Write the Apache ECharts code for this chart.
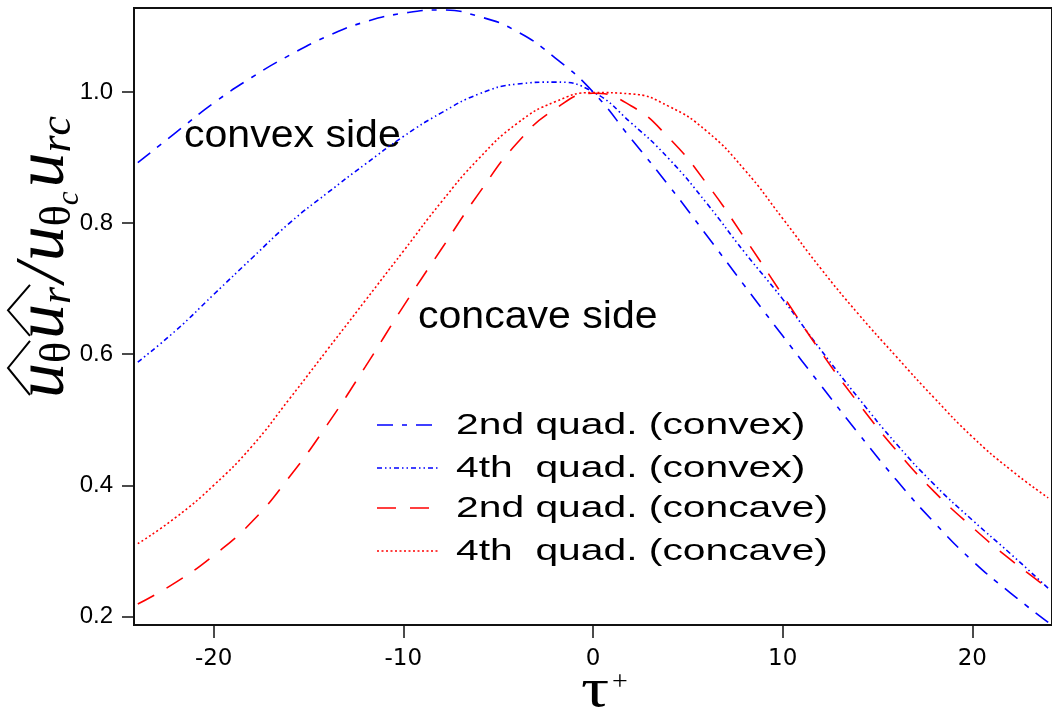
<!DOCTYPE html>
<html>
<head>
<meta charset="utf-8">
<script src="https://cdn.jsdelivr.net/npm/echarts@6/dist/echarts.min.js"></script>
<style>
  html, body { margin: 0; padding: 0; background: #fff; }
  #chart { width: 1052px; height: 713px; }
</style>
</head>
<body>
<div id="chart"></div>
<script>
// Normalised Reynolds-stress profiles versus tau+
const tau = [-24, -22, -20, -18, -16, -14, -12, -10, -8, -6, -4, -2, 0, 2, 4, 6, 8, 10, 12, 14, 16, 18, 20, 22, 24];
const quad2Convex  = [0.892, 0.938, 0.983, 1.022, 1.056, 1.085, 1.107, 1.120, 1.125, 1.115, 1.092, 1.052, 1.000, 0.929, 0.857, 0.781, 0.704, 0.628, 0.553, 0.479, 0.408, 0.343, 0.285, 0.236, 0.191];
const quad4Convex  = [0.588, 0.636, 0.691, 0.746, 0.800, 0.846, 0.890, 0.932, 0.968, 0.997, 1.012, 1.015, 1.000, 0.953, 0.898, 0.830, 0.755, 0.684, 0.607, 0.533, 0.463, 0.401, 0.347, 0.296, 0.243];
const quad2Concave = [0.219, 0.252, 0.293, 0.344, 0.413, 0.493, 0.581, 0.673, 0.760, 0.846, 0.922, 0.974, 0.998, 0.979, 0.930, 0.860, 0.777, 0.690, 0.604, 0.525, 0.453, 0.390, 0.336, 0.287, 0.243];
const quad4Concave = [0.311, 0.351, 0.400, 0.459, 0.532, 0.607, 0.682, 0.757, 0.832, 0.899, 0.952, 0.985, 0.999, 0.997, 0.978, 0.940, 0.881, 0.807, 0.731, 0.661, 0.596, 0.533, 0.474, 0.424, 0.381];
const seriesNames = ['2nd quad. (convex)', '4th  quad. (convex)', '2nd quad. (concave)', '4th  quad. (concave)'];
const xTicks = [-20, -10, 0, 10, 20];
const yTicks = [0.2, 0.4, 0.6, 0.8, 1.0];
const sideLabels = ['convex side', 'concave side'];

const seriesValues = [quad2Convex, quad4Convex, quad2Concave, quad4Concave];
const lineLooks = [
  { color: '#0000ff', dash: [16, 9, 5, 9] },
  { color: '#0000ff', dash: [5, 3, 1.5, 3, 1.5, 3] },
  { color: '#ff0000', dash: [19, 14] },
  { color: '#ff0000', dash: [2, 2.5] }
];
const LINE_W = 1.6;

const measureCtx = document.createElement('canvas').getContext('2d');
function textWidth(t, font) { measureCtx.font = font; return measureCtx.measureText(t).width; }

// Builds a rotated math label: tokens laid out along a baseline, with optional wide hats
function mathLabel(tokens, x0, y0, rotation) {
  const children = [];
  let cursor = 0;
  let hatStart = null;
  tokens.forEach(tok => {
    const family = tok.family || '"Liberation Serif", "Times New Roman", serif';
    const style = tok.italic ? 'italic' : 'normal';
    const font = `${style} ${tok.size}px ${family}`;
    const w = textWidth(tok.t, font);
    const dy = tok.dy || 0;
    if (tok.hatStart) hatStart = cursor;
    children.push({
      type: 'text',
      x: cursor, y: dy - 0.3375 * tok.size,
      style: {
        text: tok.t, fontSize: tok.size, fontFamily: family, fontStyle: style,
        fill: '#000', align: 'left', verticalAlign: 'middle'
      }
    });
    cursor += w + (tok.gap || 0);
    if (tok.hatEnd && hatStart !== null) {
      const a = hatStart + 3, b = cursor - 2, c = (a + b) / 2;
      children.push({
        type: 'polyline',
        shape: { points: [[a, -38], [c, -60], [b, -38]] },
        style: { stroke: '#000', lineWidth: 2, fill: null }
      });
      hatStart = null;
    }
  });
  return { type: 'group', x: x0, y: y0, rotation: rotation, children: children };
}

const yTitle = mathLabel([
  { t: 'u', size: 70, italic: true, hatStart: true },
  { t: 'θ', size: 44, dy: 5, hatEnd: true, gap: 3 },
  { t: 'u', size: 70, italic: true, hatStart: true },
  { t: 'r', size: 44, italic: true, dy: 5, hatEnd: true, gap: 4 },
  { t: '/', size: 70, italic: true, gap: 2 },
  { t: 'u', size: 70, italic: true },
  { t: 'θ', size: 44, dy: 5 },
  { t: 'c', size: 31, italic: true, dy: 12, gap: 4 },
  { t: 'u', size: 70, italic: true },
  { t: 'r', size: 44, italic: true, dy: 5 },
  { t: 'c', size: 44, italic: true, dy: 5 }
], 68, 398, Math.PI / 2);

const legendRows = [425, 468, 508, 551];
const legendGraphics = [];
seriesNames.forEach((name, i) => {
  legendGraphics.push({
    type: 'line',
    shape: { x1: 377, y1: legendRows[i], x2: 438, y2: legendRows[i] },
    style: { stroke: lineLooks[i].color, lineWidth: LINE_W, lineDash: lineLooks[i].dash }
  });
  legendGraphics.push({
    type: 'text', x: 456, y: legendRows[i] + 1, scaleX: 1.36,
    style: {
      text: name, fontSize: 30, fontFamily: '"Liberation Sans", Arial, sans-serif',
      fill: '#000', align: 'left', verticalAlign: 'middle'
    }
  });
});

const chart = echarts.init(document.getElementById('chart'), null, { renderer: 'canvas' });

chart.setOption({
  animation: false,
  backgroundColor: '#fff',
  grid: { left: 134, right: -9, top: 8, bottom: 88, show: true, borderColor: '#111', borderWidth: 2 },
  xAxis: {
    type: 'value', min: -24.2, max: 24.2,
    axisLine: { show: true, onZero: false, lineStyle: { color: '#111', width: 2 } },
    axisTick: { show: true, inside: false, length: 13, customValues: xTicks, lineStyle: { color: '#111', width: 1.5 } },
    axisLabel: {
      customValues: xTicks, margin: 23, fontSize: 23, color: '#000',
      fontFamily: '"DejaVu Sans", sans-serif'
    },
    splitLine: { show: false }
  },
  yAxis: {
    type: 'value', min: 0.187, max: 1.128,
    axisLine: { show: true, onZero: false, lineStyle: { color: '#111', width: 2 } },
    axisTick: { show: true, inside: false, length: 12, customValues: yTicks, lineStyle: { color: '#111', width: 1.5 } },
    axisLabel: {
      customValues: yTicks, margin: 21, fontSize: 24, color: '#000',
      fontFamily: '"Liberation Sans", Arial, sans-serif',
      formatter: v => v.toFixed(1)
    },
    splitLine: { show: false }
  },
  series: seriesNames.map((name, i) => ({
    name: name,
    type: 'line',
    data: tau.map((t, k) => [t, seriesValues[i][k]]),
    showSymbol: false,
    smooth: 0.5,
    lineStyle: { color: lineLooks[i].color, width: LINE_W, type: lineLooks[i].dash, cap: 'butt' }
  })),
  graphic: {
    elements: [
      yTitle,
      {
        type: 'text', x: 184, y: 137, scaleX: 1.08,
        style: { text: sideLabels[0], fontSize: 38, fontFamily: '"Liberation Sans", Arial, sans-serif', fill: '#000', verticalAlign: 'middle' }
      },
      {
        type: 'text', x: 418, y: 318, scaleX: 1.08,
        style: { text: sideLabels[1], fontSize: 38, fontFamily: '"Liberation Sans", Arial, sans-serif', fill: '#000', verticalAlign: 'middle' }
      },
      {
        type: 'text', x: 581, y: 692, scaleX: 1.3,
        style: { text: 'τ', fontSize: 54, fontFamily: '"Liberation Serif", "Times New Roman", serif', fill: '#000', verticalAlign: 'middle' }
      },
      {
        type: 'text', x: 612, y: 683,
        style: { text: '+', fontSize: 28, fontFamily: '"Liberation Serif", "Times New Roman", serif', fill: '#000', verticalAlign: 'middle' }
      }
    ].concat(legendGraphics)
  }
});
</script>
</body>
</html>
